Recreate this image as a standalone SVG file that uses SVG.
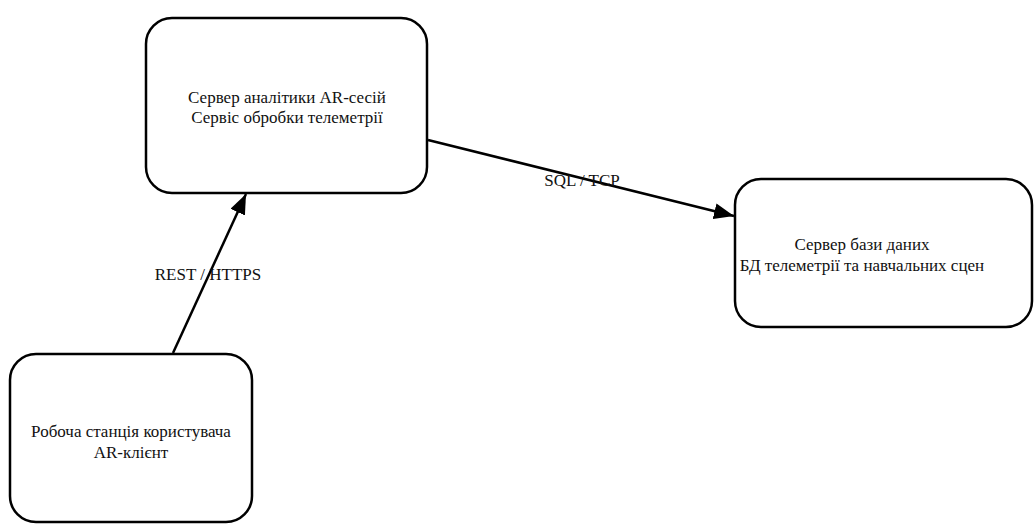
<svg xmlns="http://www.w3.org/2000/svg" width="1034" height="525" viewBox="0 0 1034 525">
  <style>
    .node rect { fill: #ffffff; stroke: #000000; stroke-width: 2.5; }
    .node text, .label { font-family: "Liberation Serif", "Times New Roman", serif; font-size: 17px; fill: #111111; text-anchor: middle; }
    .edge { fill: none; stroke: #000000; stroke-width: 2.5; }
  </style>
  <defs>
    <marker id="head" viewBox="0 0 20 16" refX="20" refY="8" markerWidth="20" markerHeight="16" orient="auto" markerUnits="userSpaceOnUse">
      <path d="M0,0 L20,8 L0,16 z" fill="#000000"/>
    </marker>
  </defs>
  <rect width="1034" height="525" fill="#ffffff"/>

  <!-- connectors -->
  <g id="connectors">
    <line class="edge" x1="173" y1="353" x2="246" y2="194" marker-end="url(#head)"/>
    <line class="edge" x1="428" y1="140" x2="734" y2="216" marker-end="url(#head)"/>
    <text class="label" x="208" y="280">REST / HTTPS</text>
    <text class="label" x="582" y="186">SQL / TCP</text>
  </g>

  <!-- analytics server -->
  <g id="analytics-server" class="node">
    <rect x="146" y="18" width="281" height="175" rx="26" ry="26"/>
    <text x="287" y="103">Сервер аналітики AR-сесій</text>
    <text x="287" y="123">Сервіс обробки телеметрії</text>
  </g>

  <!-- database server -->
  <g id="database-server" class="node">
    <rect x="735" y="179" width="297" height="148" rx="26" ry="26"/>
    <text x="862" y="250">Сервер бази даних</text>
    <text x="862" y="271">БД телеметрії та навчальних сцен</text>
  </g>

  <!-- user workstation -->
  <g id="user-workstation" class="node">
    <rect x="10" y="354" width="242" height="168" rx="26" ry="26"/>
    <text x="131" y="437">Робоча станція користувача</text>
    <text x="131" y="458">AR-клієнт</text>
  </g>
</svg>
